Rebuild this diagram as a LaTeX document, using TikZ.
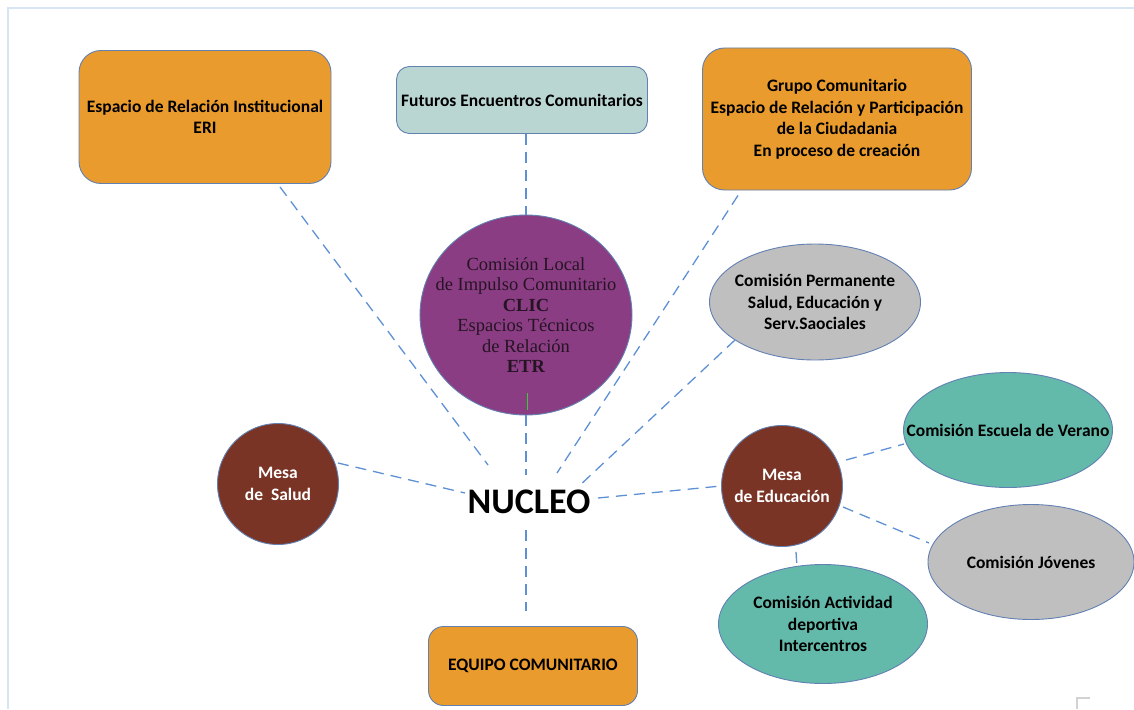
\documentclass[tikz,border=0pt]{standalone}
\usepackage{fontspec}
\setmainfont{Carlito}
\newfontfamily\clicfont{Liberation Serif}
\usepackage{xcolor}
\usepackage{tikz}
\usetikzlibrary{shapes.geometric,calc,positioning}

\definecolor{naranja}{RGB}{233,155,45}
\definecolor{celeste}{RGB}{186,214,211}
\definecolor{morado}{RGB}{138,61,131}
\definecolor{gris}{RGB}{191,191,191}
\definecolor{marron}{RGB}{121,52,38}
\definecolor{turquesa}{RGB}{99,186,170}
\definecolor{borde}{RGB}{98,128,178}
\definecolor{enlace}{RGB}{94,145,212}
\definecolor{marco}{RGB}{214,228,243}

\begin{document}
\begin{tikzpicture}[x=1pt, y=-1pt,
    txt/.style={font=\bfseries\fontsize{17.5}{21.5}\selectfont, align=center, inner sep=0pt},
    caja/.style={txt, draw=borde, line width=0.9pt, rounded corners=22pt, fill=naranja},
    elipse/.style={ellipse, draw=borde, line width=0.9pt, inner sep=0pt},
    mesa/.style={txt, circle, draw=borde, line width=0.9pt, fill=marron, text=white, minimum size=121pt},
    link/.style={draw=enlace, line width=1.3pt, dash pattern=on 11pt off 7pt}]
    \useasboundingbox (0,0) rectangle (1134,709);

    % marco
    \draw [marco, line width=2pt] (8,709) -- (8,8) -- (1134,8);
    \draw [gris!70, line width=1.5pt] (1077,709) -- (1077,698) -- (1090,698);

    % Cajas superiores e inferior
    \node [caja, minimum width=252pt, minimum height=133pt] (eri) at (205,117)
        {Espacio de Relación Institucional\\ERI};
    \node [caja, fill=celeste, rounded corners=13pt, minimum width=251pt, minimum height=67pt] (futuros) at (522,100)
        {Futuros Encuentros Comunitarios};
    \node [caja, minimum width=269pt, minimum height=142pt] (grupo) at (837,119)
        {Grupo Comunitario\\Espacio de Relación y Participación\\de la Ciudadania\\En proceso de creación};
    \node [caja, rounded corners=15pt, minimum width=209pt, minimum height=79pt] (equipo) at (533,666)
        {EQUIPO COMUNITARIO};

    % Centro
    \node [elipse, fill=morado, minimum width=212pt, minimum height=200pt,
        label={[align=center, inner sep=0pt, text={rgb,255:red,38;green,20;blue,36},
        font=\clicfont\fontsize{18.5}{20.5}\selectfont]center:Comisión Local\\de Impulso Comunitario\\\textbf{CLIC}\\Espacios Técnicos\\de Relación\\\textbf{ETR}}] (clic) at (526,315) {};
    \draw [green!60!gray, line width=0.8pt] (527,393) -- (527,410);
    \node [inner sep=0pt, font=\bfseries\fontsize{36}{40}\selectfont] (nucleo) at (529,502) {NUCLEO};

    % Comisiones y mesas
    \node [elipse, fill=gris, minimum width=211pt, minimum height=116pt,
        label={[txt]center:Comisión Permanente\\Salud, Educación y\\Serv.Saociales}] (perm) at (815,302) {};
    \node [mesa] (salud) at (278,484) {Mesa\\de\ \ Salud};
    \node [mesa] (edu) at (782,486) {Mesa\\de Educación};
    \node [elipse, fill=turquesa, minimum width=209pt, minimum height=115pt,
        label={[txt]center:Comisión Escuela de Verano}] (escuela) at (1008,430) {};
    \node [elipse, fill=gris, minimum width=206pt, minimum height=115pt,
        label={[txt]center:Comisión Jóvenes}] (jovenes) at (1031,562) {};
    \node [elipse, fill=turquesa, minimum width=209pt, minimum height=119pt,
        label={[txt]center:Comisión Actividad\\deportiva\\Intercentros}] (activ) at (823,624) {};

    % Enlaces
    \draw [link] ($(eri.south)+(75,3)$) -- ($(nucleo)+(-41,-37)$);
    \draw [link] ($(futuros.south)+(4,0)$) -- (clic.north);
    \draw [link] ($(grupo.south)+(-99,5)$) -- ($(nucleo)+(28,-29)$);
    \draw [link] ($(perm)+(-80,38)$) -- ($(nucleo)+(49,-15)$);
    \draw [link] (clic.south) -- ($(nucleo)+(-3,-27)$);
    \draw [link] ($(salud.east)+(-1,-21)$) -- ($(nucleo)+(-64,-9)$);
    \draw [link] ($(nucleo)+(69,-4)$) -- (edu.west);
    \draw [link] ($(nucleo)+(-3,28)$) -- ($(equipo.north)+(-7,-15)$);
    \draw [link] ($(edu)+(64,-26)$) -- ($(escuela)+(-104,14)$);
    \draw [link] ($(edu)+(61,21)$) -- ($(jovenes)+(-102,-19)$);
    \draw [link] ($(edu.south)+(14,5)$) -- ($(activ.north)+(-26,3)$);
\end{tikzpicture}
\end{document}
